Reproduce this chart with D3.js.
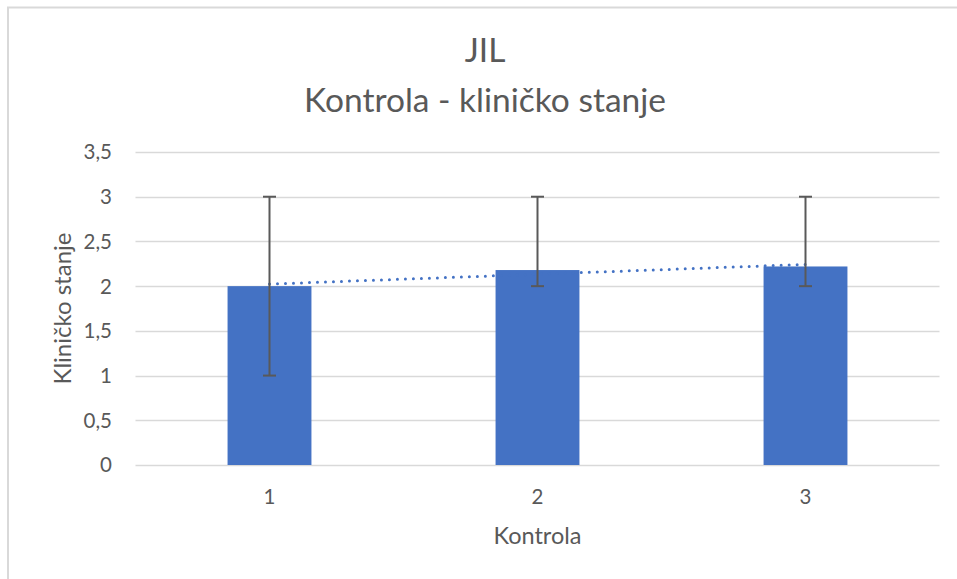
<!DOCTYPE html>
<html>
<head>
<meta charset="utf-8">
<script src="https://cdn.jsdelivr.net/npm/d3@7"></script>
<style>
  html, body { margin: 0; padding: 0; background: #fff; }
  svg { display: block; font-family: Lato, "Open Sans", sans-serif; }
</style>
</head>
<body>
<svg id="svg" width="957" height="579"></svg>
<script>
// chart data
const categories = ["1", "2", "3"];
const values = [2.0, 2.18, 2.22];
const errLow = [1, 2, 2];
const errHigh = [3, 3, 3];
const yTicks = [0, 0.5, 1, 1.5, 2, 2.5, 3, 3.5];

const titleLines = ["JIL", "Kontrola - kliničko stanje"];
const xTitle = "Kontrola";
const yTitle = "Kliničko stanje";

const textColor = "#595959";
const gridColor = "#d9d9d9";
const barColor = "#4472c4";

const svg = d3.select("#svg");

// outer chart border (only top and left visible in the crop)
svg.append("path")
  .attr("d", "M8,579 V7.5 H957")
  .attr("fill", "none")
  .attr("stroke", gridColor)
  .attr("stroke-width", 2);

const plot = { left: 135.5, right: 939.5, top: 152, bottom: 465 };

const y = d3.scaleLinear()
  .domain([0, 3.5])
  .range([plot.bottom, plot.top]);

// Excel style gap width: outer padding is half the inner padding
const gap = 0.687;
const x = d3.scaleBand()
  .domain(categories)
  .range([plot.left, plot.right])
  .paddingInner(gap)
  .paddingOuter(gap / 2);

const fmt = d => String(d).replace(".", ",");

// gridlines
svg.append("g")
  .selectAll("line")
  .data(yTicks)
  .join("line")
  .attr("x1", plot.left)
  .attr("x2", plot.right)
  .attr("y1", d => Math.round(y(d)) + 0.5)
  .attr("y2", d => Math.round(y(d)) + 0.5)
  .attr("stroke", gridColor)
  .attr("stroke-width", d => d === 0 ? 1.5 : 1.3);

// y tick labels
svg.append("g")
  .selectAll("text")
  .data(yTicks)
  .join("text")
  .attr("x", 112)
  .attr("y", d => y(d))
  .attr("dy", "0.36em")
  .attr("text-anchor", "end")
  .attr("fill", textColor)
  .attr("font-size", 20.5)
  .text(fmt);

// x tick labels
svg.append("g")
  .selectAll("text")
  .data(categories)
  .join("text")
  .attr("x", d => x(d) + x.bandwidth() / 2)
  .attr("y", 497)
  .attr("dy", "0.36em")
  .attr("text-anchor", "middle")
  .attr("fill", textColor)
  .attr("font-size", 20.5)
  .text(d => d);

// bars
svg.append("g")
  .selectAll("rect")
  .data(values)
  .join("rect")
  .attr("x", (d, i) => x(categories[i]))
  .attr("width", x.bandwidth())
  .attr("y", d => y(d))
  .attr("height", d => y(0) - y(d))
  .attr("fill", barColor);

// linear trendline (least squares over the bar values)
const xs = categories.map((c, i) => i + 1);
const mx = d3.mean(xs), my = d3.mean(values);
const slope = d3.sum(xs, (v, i) => (v - mx) * (values[i] - my)) /
  d3.sum(xs, v => (v - mx) * (v - mx));
const icpt = my - slope * mx;
const trend = xs.map((v, i) => [x(categories[i]) + x.bandwidth() / 2, y(icpt + slope * v)]);

svg.append("path")
  .attr("d", d3.line()(trend))
  .attr("fill", "none")
  .attr("stroke", barColor)
  .attr("stroke-width", 3)
  .attr("stroke-linecap", "round")
  .attr("stroke-dasharray", "0,8");

// error bars
const eb = svg.append("g")
  .attr("stroke", "#595959")
  .attr("stroke-width", 2);
categories.forEach((c, i) => {
  const cx = x(c) + x.bandwidth() / 2;
  eb.append("line")
    .attr("x1", cx).attr("x2", cx)
    .attr("y1", y(errLow[i])).attr("y2", y(errHigh[i]));
  [errLow[i], errHigh[i]].forEach(v => {
    eb.append("line")
      .attr("x1", cx - 6.5).attr("x2", cx + 6.5)
      .attr("y1", y(v)).attr("y2", y(v));
  });
});

// titles
svg.append("g")
  .selectAll("text")
  .data(titleLines)
  .join("text")
  .attr("x", 485)
  .attr("y", (d, i) => 50 + i * 50)
  .attr("dy", "0.36em")
  .attr("text-anchor", "middle")
  .attr("fill", textColor)
  .attr("font-size", 33.5)
  .text(d => d);

svg.append("text")
  .attr("x", (plot.left + plot.right) / 2)
  .attr("y", 536)
  .attr("dy", "0.36em")
  .attr("text-anchor", "middle")
  .attr("fill", textColor)
  .attr("font-size", 23.5)
  .text(xTitle);

svg.append("text")
  .attr("transform", `translate(62,${(plot.top + plot.bottom) / 2}) rotate(-90)`)
  .attr("dy", "0.36em")
  .attr("text-anchor", "middle")
  .attr("fill", textColor)
  .attr("font-size", 24)
  .text(yTitle);
</script>
</body>
</html>
